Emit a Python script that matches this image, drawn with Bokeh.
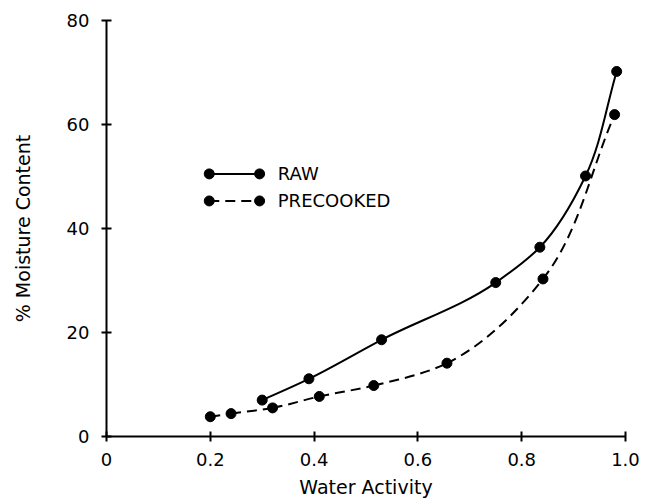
from bokeh.plotting import figure
from bokeh.models import Range1d, FixedTicker, ColumnDataSource
from bokeh.embed import file_html
from bokeh.resources import INLINE
from bokeh.core.properties import value
import numpy as np

# Data
raw_aw = [0.30, 0.39, 0.53, 0.75, 0.835, 0.923, 0.983]
raw_mc = [7.0, 11.1, 18.6, 29.6, 36.4, 50.1, 70.2]
pre_aw = [0.20, 0.24, 0.32, 0.41, 0.515, 0.656, 0.841, 0.979]
pre_mc = [3.8, 4.4, 5.5, 7.7, 9.8, 14.1, 30.3, 61.9]

x_ticks = [0, 0.2, 0.4, 0.6, 0.8, 1.0]
x_tick_labels = ["0", "0.2", "0.4", "0.6", "0.8", "1.0"]
y_ticks = [0, 20, 40, 60, 80]
y_tick_labels = ["0", "20", "40", "60", "80"]

legend_names = ["RAW", "PRECOOKED"]
legend_dash = ["solid", "10 6"]

FONT = "DejaVu Sans"
FW, FH = 519, 417
XR, YR = (0, 1.0), (0, 80)


def smooth_bezier(xs, ys):
    # chord-length parametrised cubic (Catmull-Rom style) through the data points
    sx = FW / (XR[1] - XR[0])
    sy = FH / (YR[1] - YR[0])
    P = np.column_stack([np.asarray(xs, float) * sx, np.asarray(ys, float) * sy])
    n = len(P)
    d = np.linalg.norm(np.diff(P, axis=0), axis=1)
    T = np.zeros_like(P)
    for i in range(n):
        if i == 0:
            T[i] = (P[1] - P[0]) / d[0]
        elif i == n - 1:
            T[i] = (P[-1] - P[-2]) / d[-1]
        else:
            a, b = d[i - 1], d[i]
            T[i] = ((P[i] - P[i - 1]) / a * b + (P[i + 1] - P[i]) / b * a) / (a + b)
    out = {k: [] for k in ("x0", "y0", "x1", "y1", "cx0", "cy0", "cx1", "cy1")}
    for i in range(n - 1):
        c0 = P[i] + T[i] * d[i] / 3
        c1 = P[i + 1] - T[i + 1] * d[i] / 3
        out["x0"].append(P[i][0] / sx); out["y0"].append(P[i][1] / sy)
        out["x1"].append(P[i + 1][0] / sx); out["y1"].append(P[i + 1][1] / sy)
        out["cx0"].append(c0[0] / sx); out["cy0"].append(c0[1] / sy)
        out["cx1"].append(c1[0] / sx); out["cy1"].append(c1[1] / sy)
    return out


p = figure(width=655, height=500, output_backend="svg", toolbar_location=None,
           x_range=Range1d(*XR), y_range=Range1d(*YR),
           min_border_left=106, min_border_right=30, min_border_top=20, min_border_bottom=63)
p.outline_line_color = None
p.grid.visible = False
p.background_fill_color = "white"
p.border_fill_color = "white"

for ax in (p.xaxis[0], p.yaxis[0]):
    ax.axis_line_width = 2
    ax.axis_line_color = "black"
    ax.major_tick_in = 5
    ax.major_tick_out = 5
    ax.major_tick_line_width = 2
    ax.major_tick_line_color = "black"
    ax.minor_tick_line_color = None
    ax.major_label_text_font = FONT
    ax.major_label_text_font_size = "18px"
    ax.major_label_text_color = "black"
    ax.axis_label_text_font = FONT
    ax.axis_label_text_font_size = "19px"
    ax.axis_label_text_font_style = "normal"
    ax.axis_label_text_color = "black"

p.xaxis.ticker = FixedTicker(ticks=x_ticks)
p.xaxis.major_label_overrides = dict(zip(x_ticks, x_tick_labels))
p.yaxis.ticker = FixedTicker(ticks=y_ticks)
p.yaxis.major_label_overrides = dict(zip(y_ticks, y_tick_labels))
p.xaxis.axis_label = "Water Activity"
p.yaxis.axis_label = "% Moisture Content"
p.xaxis.major_label_standoff = 11
p.yaxis.major_label_standoff = 12
p.xaxis.axis_label_standoff = 7
p.yaxis.axis_label_standoff = 30

# curves
p.bezier(source=ColumnDataSource(smooth_bezier(raw_aw, raw_mc)),
         x0="x0", y0="y0", x1="x1", y1="y1", cx0="cx0", cy0="cy0", cx1="cx1", cy1="cy1",
         line_color="black", line_width=2)
p.bezier(source=ColumnDataSource(smooth_bezier(pre_aw, pre_mc)),
         x0="x0", y0="y0", x1="x1", y1="y1", cx0="cx0", cy0="cy0", cx1="cx1", cy1="cy1",
         line_color="black", line_width=2, line_dash="10 6")
p.scatter(raw_aw, raw_mc, size=10, color="black")
p.scatter(pre_aw, pre_mc, size=10, color="black")

# legend (manual, markers at both ends)
leg_x0, leg_x1, leg_tx = 0.198, 0.295, 0.33
leg_y = [50.5, 45.3]
for name, dash, ly in zip(legend_names, legend_dash, leg_y):
    p.line([leg_x0, leg_x1], [ly, ly], line_color="black", line_width=2, line_dash=dash)
    p.scatter([leg_x0, leg_x1], [ly, ly], size=10, color="black")
    p.text([leg_tx], [ly], text=[name], text_font=value(FONT), text_font_size="18px",
           text_baseline="middle", text_align="left", text_color="black")

open("out.html", "w").write(file_html(p, INLINE))
